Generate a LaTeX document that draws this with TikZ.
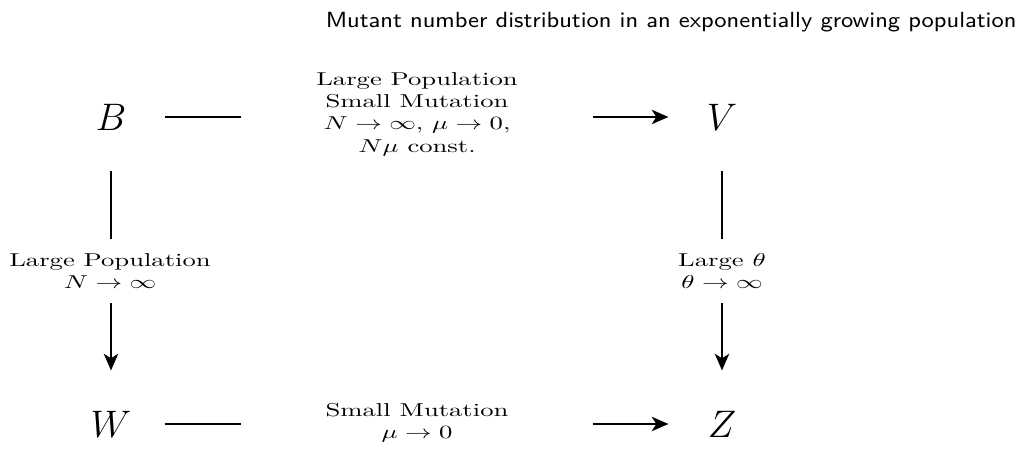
\documentclass[tikz,border=0pt]{standalone}
\usepackage{amsmath}
\usetikzlibrary{arrows.meta}

\begin{document}
\begin{tikzpicture}[x=0.0132cm, y=-0.0132cm, >={Stealth[length=2.2mm, width=1.9mm, inset=0.6mm]},
    corner/.style={minimum width=1.4cm, minimum height=1.4cm, inner sep=0pt, font=\Large},
    hlabel/.style={minimum width=4.62cm, inner sep=0pt, align=center, yscale=0.7},
    vlabel/.style={minimum height=1.19cm, inner sep=0pt, align=center, yscale=0.7},
    link/.style={thick}]
    \useasboundingbox (0,0) rectangle (1024,449);

    % 1. title
    \node[anchor=east, inner sep=0pt, font=\sffamily\fontsize{8.95}{11}\selectfont, yscale=0.92] (title) at (1017,22) {Mutant number distribution in an exponentially growing population};

    % 2. corners
    \node[corner] (B) at (111,117) {$B$};
    \node[corner] (V) at (722,117) {$V$};
    \node[corner] (W) at (111,424) {$W$};
    \node[corner] (Z) at (722,424) {$Z$};

    % 3. limit labels
    \node[hlabel] (top) at (417,114) {Large Population\\Small Mutation\\$N\to\infty$, $\mu\to0$,\\$N\mu$ const.};
    \node[hlabel] (bottom) at (417,423) {Small Mutation\\$\mu\to0$};
    \node[vlabel] (left) at (110,271) {Large Population\\$N\to\infty$};
    \node[vlabel] (right) at (722,271) {Large $\theta$\\$\theta\to\infty$};

    % 4. connectors
    \draw[link] (B) -- (B -| top.west);
    \draw[link, ->] (top.east |- V) -- (V);
    \draw[link] (W) -- (W -| bottom.west);
    \draw[link, ->] (bottom.east |- Z) -- (Z);
    \draw[link] (B) -- (B |- left.north);
    \draw[link, ->] (left.south -| B) -- (W);
    \draw[link] (V) -- (right);
    \draw[link, ->] (right) -- (Z);
\end{tikzpicture}
\end{document}
